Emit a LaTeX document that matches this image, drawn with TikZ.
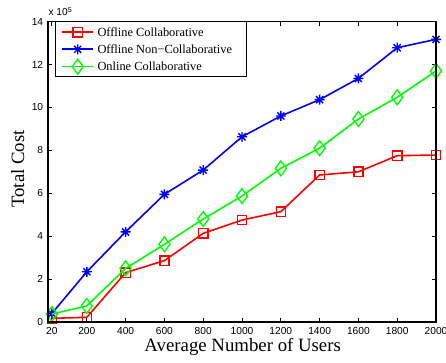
\documentclass[tikz,border=0pt]{standalone}
\usepackage{fontspec}
\setmainfont{Liberation Serif}
\newfontfamily\tickfont{Liberation Sans}
\usetikzlibrary{plotmarks}

\pgfdeclareplotmark{star8}{%
  \pgfpathmoveto{\pgfqpoint{-\pgfplotmarksize}{0pt}}\pgfpathlineto{\pgfqpoint{\pgfplotmarksize}{0pt}}%
  \pgfpathmoveto{\pgfqpoint{0pt}{-\pgfplotmarksize}}\pgfpathlineto{\pgfqpoint{0pt}{\pgfplotmarksize}}%
  \pgfpathmoveto{\pgfqpoint{-.707\pgfplotmarksize}{-.707\pgfplotmarksize}}\pgfpathlineto{\pgfqpoint{.707\pgfplotmarksize}{.707\pgfplotmarksize}}%
  \pgfpathmoveto{\pgfqpoint{-.707\pgfplotmarksize}{.707\pgfplotmarksize}}\pgfpathlineto{\pgfqpoint{.707\pgfplotmarksize}{-.707\pgfplotmarksize}}%
  \pgfusepathqstroke}

\begin{document}
\begin{tikzpicture}[x=1pt,y=1pt,
    curve/.style={line width=1.6pt},
    redmk/.style={mark=square,mark size=4.6pt,mark options={solid,line width=1.4pt}},
    bluemk/.style={mark=star8,mark size=5pt,mark options={solid,line width=1.4pt}},
    greenmk/.style={mark=diamond,mark size=7.4pt,mark options={solid,line width=1.4pt}},
    ticklab/.style={font=\tickfont\fontsize{10.2}{12}\selectfont,inner sep=0pt},
    leglab/.style={font=\fontsize{12.4}{14}\selectfont,inner sep=0pt,anchor=west}]
    \useasboundingbox (0,0) rectangle (446,363);
    \fill[white] (0,0) rectangle (446,363);
    \begin{scope}[shift={(48,41)},x=0.194pt,y=21.46pt]
        % ticks and tick labels
        \foreach \t in {20,200,400,...,2000}{
            \draw[line width=0.8pt] (\t,0)--++(0pt,4pt);
            \draw[line width=0.8pt] (\t,14)--++(0pt,-4pt);
            \node[ticklab,anchor=north,yshift=-5.6pt] (xt\t) at (\t,0) {\t};
        }
        \foreach \t in {0,2,...,14}{
            \draw[line width=0.8pt] (0,\t)--++(4pt,0pt);
            \draw[line width=0.8pt] (2000,\t)--++(-4pt,0pt);
            \node[ticklab,anchor=east,xshift=-4.7pt] (yt\t) at (0,\t) {\t};
        }
        % curves
        \draw[red,curve] plot[redmk] coordinates {(20,0.17) (200,0.22) (400,2.3) (600,2.86) (800,4.13) (1000,4.75) (1200,5.14) (1400,6.85) (1600,7.0) (1800,7.75) (2000,7.78)};
        \draw[blue,curve] plot[bluemk] coordinates {(20,0.4) (200,2.34) (400,4.2) (600,5.95) (800,7.08) (1000,8.63) (1200,9.6) (1400,10.36) (1600,11.35) (1800,12.78) (2000,13.17)};
        \draw[green,curve] plot[greenmk] coordinates {(20,0.37) (200,0.75) (400,2.5) (600,3.62) (800,4.8) (1000,5.87) (1200,7.16) (1400,8.1) (1600,9.46) (1800,10.47) (2000,11.7)};
        \draw[line width=1.1pt] (0,0) rectangle (2000,14);
    \end{scope}
    % multiplier and axis labels
    \node[ticklab,anchor=base west] (mult) at (48.3,347.3) {x 10\textsuperscript{5}};
    \node[font=\fontsize{18.8}{20}\selectfont,inner sep=0pt,anchor=base,rotate=90] (ylab) at (24,194) {Total Cost};
    \node[font=\fontsize{18.8}{20}\selectfont,inner sep=0pt,anchor=base] (xlab) at (242.7,11.8) {Average Number of Users};
    % legend
    \draw[fill=white,line width=0.9pt] (55.7,287) rectangle (246.7,341.5);
    \draw[red,curve] (62.3,330.7)--(93.3,330.7);
    \draw[red] plot[redmk] coordinates {(77.7,330.7)};
    \node[leglab] (lab1) at (97.3,330.7) {Offline Collaborative};
    \draw[blue,curve] (62.3,313.7)--(93.3,313.7);
    \draw[blue] plot[bluemk] coordinates {(77.7,313.7)};
    \node[leglab] (lab2) at (97.3,313.7) {Offline Non\textminus Collaborative};
    \draw[green,curve] (62.3,296.3)--(93.3,296.3);
    \draw[green] plot[greenmk] coordinates {(77.7,296.3)};
    \node[leglab] (lab3) at (97.3,296.3) {Online Collaborative};
\end{tikzpicture}
\end{document}
